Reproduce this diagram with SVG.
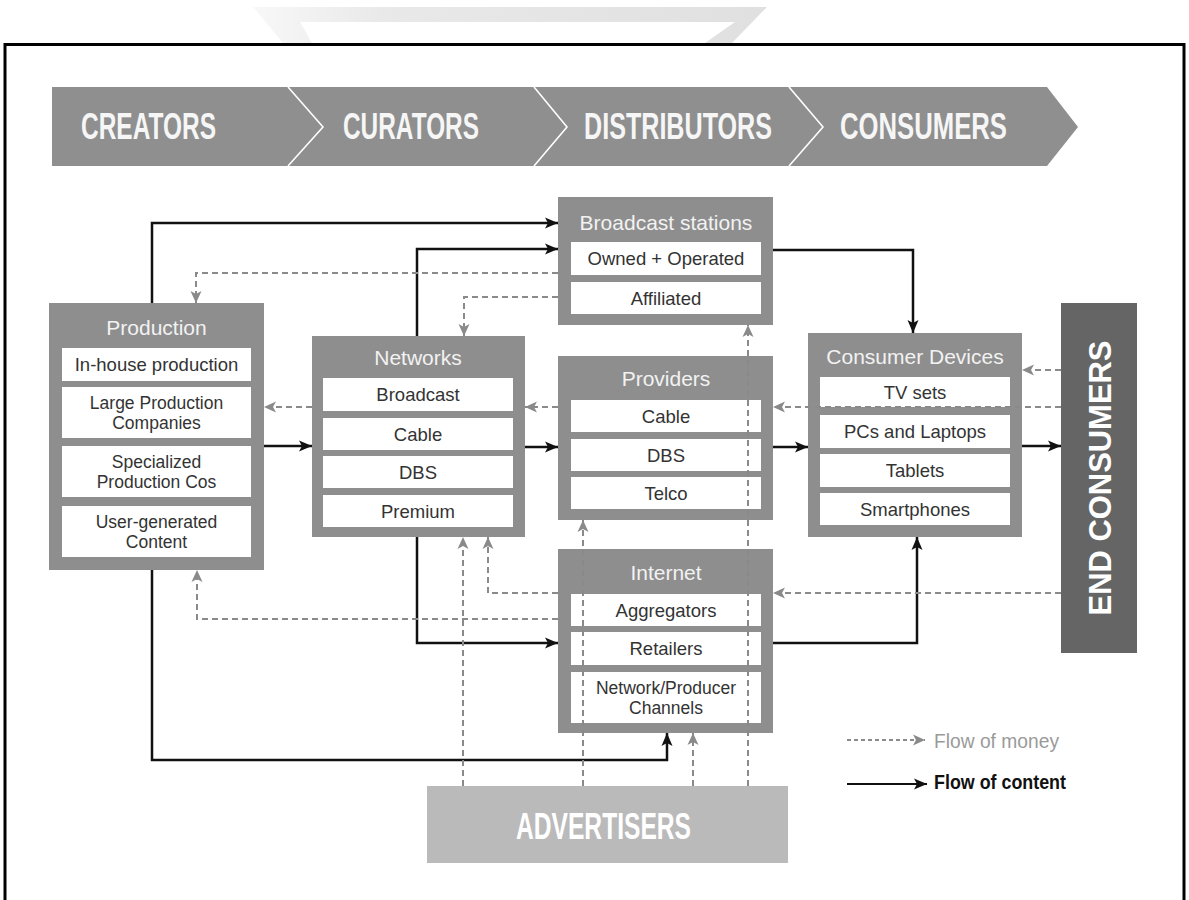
<svg xmlns="http://www.w3.org/2000/svg" width="1189" height="900" viewBox="0 0 1189 900">
  <style>
    .panel { fill: #8e8e8e; }
    .row { fill: #ffffff; }
    .title { font-family: "Liberation Sans", Arial, sans-serif; font-size: 21px; fill: #f2f2f2; text-anchor: middle; }
    .item { font-family: "Liberation Sans", Arial, sans-serif; font-size: 18.5px; fill: #333333; text-anchor: middle; }
    .item2 { font-family: "Liberation Sans", Arial, sans-serif; font-size: 17.5px; fill: #333333; text-anchor: middle; }
    .stage { font-family: "Liberation Sans", Arial, sans-serif; font-size: 37px; font-weight: bold; fill: #f6f6f6; }
    .content { fill: none; stroke: #111111; stroke-width: 2.5; marker-end: url(#arrowContent); }
    .money { fill: none; stroke: #8a8a8a; stroke-width: 2; stroke-dasharray: 6 4; marker-end: url(#arrowMoney); }
  </style>
  <defs>
    <marker id="arrowContent" markerUnits="userSpaceOnUse" markerWidth="14" markerHeight="12" refX="13" refY="6" orient="auto">
      <path d="M0,0.5 L13,6 L0,11.5 L3,6 Z" fill="#111111"/>
    </marker>
    <marker id="arrowMoney" markerUnits="userSpaceOnUse" markerWidth="13" markerHeight="12" refX="12" refY="6" orient="auto">
      <path d="M0,0.5 L12,6 L0,11.5 L3,6 Z" fill="#8a8a8a"/>
    </marker>
    <linearGradient id="fade" x1="0" y1="0" x2="1" y2="0">
      <stop offset="0" stop-color="#f8f8f8"/>
      <stop offset="0.25" stop-color="#e9e9e9"/>
      <stop offset="1" stop-color="#e0e0e0"/>
    </linearGradient>
  </defs>

  <rect x="0" y="0" width="1189" height="900" fill="#ffffff"/>

  <!-- faint emblem above the frame -->
  <polygon points="253,7 767,7 732,43 705,43 735,22 300,22 312,43 283,43" fill="url(#fade)"/>

  <!-- outer frame -->
  <rect x="5" y="44.5" width="1179" height="900" fill="none" stroke="#000000" stroke-width="3"/>

  <!-- value-chain stages -->
  <g id="stages">
    <polygon points="52,87 1047,87 1078,127 1047,166 52,166" fill="#8f8f8f"/>
    <polyline points="288,87 323,127 288,166" fill="none" stroke="#ffffff" stroke-width="1.6"/>
    <polyline points="534,87 567,127 534,166" fill="none" stroke="#ffffff" stroke-width="1.6"/>
    <polyline points="789,87 823,127 789,166" fill="none" stroke="#ffffff" stroke-width="1.6"/>
    <text class="stage" x="81" y="139" textLength="135" lengthAdjust="spacingAndGlyphs">CREATORS</text>
    <text class="stage" x="343" y="139" textLength="136" lengthAdjust="spacingAndGlyphs">CURATORS</text>
    <text class="stage" x="584" y="139" textLength="188" lengthAdjust="spacingAndGlyphs">DISTRIBUTORS</text>
    <text class="stage" x="840" y="139" textLength="167" lengthAdjust="spacingAndGlyphs">CONSUMERS</text>
  </g>

  <g id="production">
    <rect class="panel" x="49" y="303" width="215" height="267"/>
    <text class="title" x="156.5" y="334.5">Production</text>
    <rect class="row" x="62" y="348" width="189" height="33"/>
    <text class="item" x="156.5" y="371">In-house production</text>
    <rect class="row" x="62" y="387" width="189" height="51"/>
    <text class="item2" x="156.5" y="409">Large Production</text>
    <text class="item2" x="156.5" y="429">Companies</text>
    <rect class="row" x="62" y="446" width="189" height="51"/>
    <text class="item2" x="156.5" y="468">Specialized</text>
    <text class="item2" x="156.5" y="488">Production Cos</text>
    <rect class="row" x="62" y="506" width="189" height="51"/>
    <text class="item2" x="156.5" y="528">User-generated</text>
    <text class="item2" x="156.5" y="548">Content</text>
  </g>

  <g id="networks">
    <rect class="panel" x="312" y="336" width="213" height="201"/>
    <text class="title" x="418" y="364.5">Networks</text>
    <rect class="row" x="323" y="378" width="190" height="33"/>
    <text class="item" x="418" y="401">Broadcast</text>
    <rect class="row" x="323" y="418" width="190" height="32"/>
    <text class="item" x="418" y="440.5">Cable</text>
    <rect class="row" x="323" y="456" width="190" height="32"/>
    <text class="item" x="418" y="478.5">DBS</text>
    <rect class="row" x="323" y="495" width="190" height="32"/>
    <text class="item" x="418" y="517.5">Premium</text>
  </g>

  <g id="broadcast-stations">
    <rect class="panel" x="558" y="197" width="215" height="128"/>
    <text class="title" x="666" y="229.5">Broadcast stations</text>
    <rect class="row" x="571" y="242" width="190" height="33"/>
    <text class="item" x="666" y="265">Owned + Operated</text>
    <rect class="row" x="571" y="282" width="190" height="32"/>
    <text class="item" x="666" y="304.5">Affiliated</text>
  </g>

  <g id="providers">
    <rect class="panel" x="558" y="356" width="215" height="164"/>
    <text class="title" x="666" y="385.5">Providers</text>
    <rect class="row" x="571" y="400" width="190" height="32"/>
    <text class="item" x="666" y="422.5">Cable</text>
    <rect class="row" x="571" y="439" width="190" height="32"/>
    <text class="item" x="666" y="461.5">DBS</text>
    <rect class="row" x="571" y="477" width="190" height="32"/>
    <text class="item" x="666" y="499.5">Telco</text>
  </g>

  <g id="internet">
    <rect class="panel" x="558" y="549" width="215" height="184"/>
    <text class="title" x="666" y="579.5">Internet</text>
    <rect class="row" x="571" y="594" width="190" height="32"/>
    <text class="item" x="666" y="616.5">Aggregators</text>
    <rect class="row" x="571" y="632" width="190" height="33"/>
    <text class="item" x="666" y="655">Retailers</text>
    <rect class="row" x="571" y="672" width="190" height="51"/>
    <text class="item2" x="666" y="694">Network/Producer</text>
    <text class="item2" x="666" y="714">Channels</text>
  </g>

  <g id="consumer-devices">
    <rect class="panel" x="808" y="333" width="214" height="204"/>
    <text class="title" x="915" y="363.5">Consumer Devices</text>
    <rect class="row" x="820" y="377" width="190" height="30"/>
    <text class="item" x="915" y="398.5">TV sets</text>
    <rect class="row" x="820" y="415" width="190" height="33"/>
    <text class="item" x="915" y="438">PCs and Laptops</text>
    <rect class="row" x="820" y="454" width="190" height="33"/>
    <text class="item" x="915" y="477">Tablets</text>
    <rect class="row" x="820" y="493" width="190" height="32"/>
    <text class="item" x="915" y="515.5">Smartphones</text>
  </g>

  <g id="end-consumers">
    <rect x="1061" y="303" width="76" height="350" fill="#656565"/>
    <text transform="translate(1099,478) rotate(-90)" x="0" y="11.5" text-anchor="middle" font-family="Liberation Sans, Arial, sans-serif" font-size="32" font-weight="bold" fill="#ffffff" textLength="275" lengthAdjust="spacingAndGlyphs">END CONSUMERS</text>
  </g>

  <g id="advertisers">
    <rect x="427" y="786" width="361" height="77" fill="#bababa"/>
    <text x="603.5" y="839" text-anchor="middle" font-family="Liberation Sans, Arial, sans-serif" font-size="37" font-weight="bold" fill="#ffffff" textLength="175" lengthAdjust="spacingAndGlyphs">ADVERTISERS</text>
  </g>

  <g id="connectors">
    <!-- flow of content -->
    <path class="content" d="M152,303 V223 H558"/>
    <path class="content" d="M417,336 V249 H558"/>
    <path class="content" d="M773,250 H913 V333"/>
    <path class="content" d="M264,446 H312"/>
    <path class="content" d="M525,447 H558"/>
    <path class="content" d="M773,447 H808"/>
    <path class="content" d="M1022,446 H1061"/>
    <path class="content" d="M417,537 V643 H558"/>
    <path class="content" d="M773,643 H917 V537"/>
    <path class="content" d="M152,570 V760 H667 V733"/>
    <!-- flow of money -->
    <path class="money" d="M558,273 H196 V303"/>
    <path class="money" d="M558,297 H464 V336"/>
    <path class="money" d="M312,407 H264"/>
    <path class="money" d="M558,407 H525"/>
    <path class="money" d="M1061,407 H773"/>
    <path class="money" d="M1061,370 H1022"/>
    <path class="money" d="M1061,593 H773"/>
    <path class="money" d="M558,619 H197 V570"/>
    <path class="money" d="M558,593 H488 V537"/>
    <path class="money" d="M463,786 V537"/>
    <path class="money" d="M583,786 V520"/>
    <path class="money" d="M693,786 V733"/>
    <path class="money" d="M748,786 V325"/>
  </g>

  <g id="legend">
    <path d="M847,740 H925" fill="none" stroke="#8a8a8a" stroke-width="2" stroke-dasharray="4 3" marker-end="url(#arrowMoney)"/>
    <text x="934" y="748" font-family="Liberation Sans, Arial, sans-serif" font-size="21" fill="#9a9a9a" textLength="125" lengthAdjust="spacingAndGlyphs">Flow of money</text>
    <path d="M847,784 H927" fill="none" stroke="#111111" stroke-width="2" marker-end="url(#arrowContent)"/>
    <text x="934" y="789" font-family="Liberation Sans, Arial, sans-serif" font-size="21" font-weight="bold" fill="#111111" textLength="132" lengthAdjust="spacingAndGlyphs">Flow of content</text>
  </g>
</svg>
